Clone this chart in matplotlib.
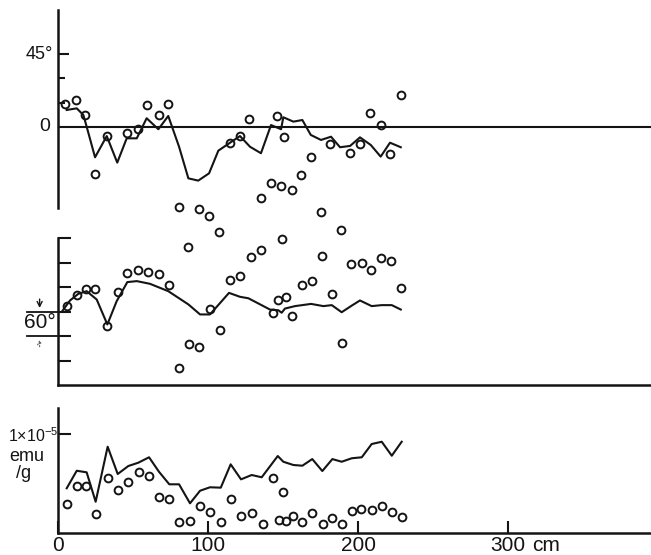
import matplotlib
matplotlib.use('Agg')
from matplotlib import pyplot as plt
import matplotlib.transforms as mtransforms

plt.rcParams['font.family'] = ['Liberation Sans', 'DejaVu Sans']
plt.rcParams['mathtext.fontset'] = 'custom'
plt.rcParams['mathtext.rm'] = 'Liberation Sans'

# Declination (deg) - single specimens (circles) and smoothed curve
dec_depth = [4.7, 11.8, 18.0, 24.7, 32.7, 46.0, 53.1, 59.3, 67.1, 73.5, 80.7, 86.9,
             94.0, 100.9, 107.5, 114.7, 121.3, 127.5, 135.3, 142.0, 146.2, 148.7,
             150.9, 155.8, 162.0, 168.5, 175.3, 181.3, 188.7, 194.7, 201.3, 208.0,
             215.1, 221.3, 228.5]
dec_pts = [14.0, 16.7, 7.6, -28.8, -5.4, -3.9, -1.4, 13.6, 7.4, 14.4, -49.4, -73.9,
           -50.6, -54.9, -64.6, -10.1, -5.6, 4.9, -43.8, -34.4, 6.8, -36.4,
           -6.4, -39.1, -29.6, -18.3, -52.7, -10.5, -63.6, -16.2, -10.3, 8.8,
           1.2, -16.9, 19.9]
dec_line_depth = [5.8, 12.5, 16.9, 19.1, 24.7, 32.5, 39.5, 45.8, 52.5, 59.1, 66.9,
                  73.5, 80.7, 86.9, 93.5, 100.7, 106.9, 114.7, 121.3, 128.0, 135.3,
                  142.0, 148.7, 150.2, 156.9, 162.9, 168.5, 175.3, 182.0, 188.0,
                  194.7, 201.3, 208.5, 215.1, 221.3, 228.5]
dec_line = [10.5, 11.5, 7.4, 0.2, -18.7, -5.6, -22.0, -7.0, -7.0, 5.4, -1.4,
            6.8, -12.2, -31.7, -33.1, -28.6, -14.6, -9.7, -5.6, -12.2, -16.2,
            1.2, -1.4, 6.0, 3.3, 4.3, -4.9, -8.0, -6.0, -12.5,
            -11.7, -6.4, -11.1, -18.3, -9.7, -12.5]

# Inclination (deg)
inc_depth = [5.8, 12.5, 18.7, 24.9, 32.9, 39.8, 46.2, 53.5, 60.2, 67.1, 74.0, 80.9,
             87.5, 94.0, 101.3, 108.0, 114.7, 121.3, 128.5, 135.3, 143.1, 146.9,
             149.1, 151.8, 155.8, 162.5, 169.5, 175.8, 182.5, 189.1, 195.1, 202.5,
             208.7, 215.3, 222.0, 228.5]
inc_pts = [62.4, 66.9, 69.0, 69.3, 54.0, 67.9, 75.9, 77.1, 76.3, 75.2, 70.9, 37.0,
           46.8, 45.6, 61.1, 52.4, 72.8, 74.4, 82.2, 85.0, 59.5, 64.5,
           89.4, 66.0, 58.1, 71.0, 72.4, 82.6, 67.3, 47.2, 79.5, 79.6,
           76.9, 81.9, 80.8, 69.7]
inc_line_depth = [3.1, 8.0, 13.5, 19.1, 25.8, 32.9, 39.1, 46.2, 52.5, 61.3, 73.5,
                  86.9, 94.7, 101.3, 109.1, 114.0, 121.3, 126.9, 133.5, 141.3, 146.9,
                  149.1, 151.3, 158.0, 168.7, 176.9, 182.5, 189.1, 195.8, 201.3,
                  209.1, 215.8, 222.5, 228.5]
inc_line = [60.4, 64.5, 67.2, 68.3, 64.9, 54.7, 64.2, 72.0, 72.4, 71.3, 68.3,
            62.9, 58.8, 58.8, 64.2, 67.6, 66.0, 65.4, 63.3, 60.8, 60.5,
            59.5, 61.2, 62.2, 63.1, 62.2, 62.6, 59.7, 62.4, 64.5,
            62.2, 62.6, 62.6, 60.8]

# Intensity (x 1e-5 emu/g)
int_depth = [5.8, 12.5, 18.7, 25.3, 33.1, 39.8, 46.9, 54.0, 60.7, 67.3, 74.0, 80.7,
             88.0, 94.7, 101.3, 108.5, 115.3, 122.0, 129.1, 136.5, 143.1, 147.3,
             149.8, 151.8, 156.5, 162.9, 169.5, 176.5, 182.9, 189.1, 195.8, 202.0,
             209.1, 215.8, 222.5, 229.1]
int_pts = [0.293, 0.478, 0.475, 0.189, 0.559, 0.434, 0.518, 0.613, 0.576, 0.367,
           0.343, 0.108, 0.121, 0.273, 0.215, 0.108, 0.343, 0.172, 0.199, 0.091,
           0.559, 0.131, 0.417, 0.121, 0.172, 0.108, 0.205, 0.091, 0.155, 0.091,
           0.222, 0.242, 0.232, 0.273, 0.215, 0.165]
int_line_depth = [5.8, 12.5, 19.1, 25.1, 33.1, 39.8, 46.9, 53.5, 60.7, 67.3, 74.2,
                  80.7, 88.0, 94.7, 101.3, 108.5, 115.1, 122.0, 129.1, 135.8, 146.5,
                  150.2, 156.9, 162.9, 169.5, 176.2, 182.9, 189.1, 195.8, 202.5,
                  209.1, 215.8, 222.5, 229.1]
int_line = [0.452, 0.629, 0.613, 0.316, 0.872, 0.596, 0.677, 0.710, 0.765, 0.619,
            0.492, 0.492, 0.300, 0.427, 0.462, 0.458, 0.694, 0.542, 0.586, 0.563,
            0.778, 0.720, 0.687, 0.680, 0.747, 0.626, 0.747, 0.720, 0.755, 0.765,
            0.899, 0.922, 0.781, 0.922]

ink = '#141414'
W, H = 651, 555
fig = plt.figure(figsize=(W / 100, H / 100), dpi=100)


def box(top, bottom):
    return [58 / W, 1 - bottom / H, (W - 58) / W, (bottom - top) / H]


ax1 = fig.add_axes(box(10, 208))
ax2 = fig.add_axes(box(238, 385))
ax3 = fig.add_axes(box(408, 533))

mk = dict(marker='o', ms=5.6, mfc='none', mec=ink, mew=1.4, ls='none', clip_on=False, zorder=4)
ln = dict(color=ink, lw=1.5, clip_on=False, zorder=3)

ax1.plot(dec_line_depth, dec_line, **ln)
ax1.plot(dec_depth, dec_pts, **mk)
ax1.axhline(0, color=ink, lw=1.5, zorder=2)
ax1.set_ylim(-50, 72.2)

ax2.plot(inc_line_depth, inc_line, **ln)
ax2.plot(inc_depth, inc_pts, **mk)
ax2.set_ylim(30, 90)

ax3.plot(int_line_depth, int_line, **ln)
ax3.plot(int_depth, int_pts, **mk)
ax3.set_ylim(0, 1.263)

for ax in (ax1, ax2, ax3):
    ax.set_xlim(0, 395.3)
    ax.patch.set_visible(False)
    for s in ax.spines.values():
        s.set_color(ink)
        s.set_linewidth(1.8)
    ax.spines['top'].set_visible(False)
    ax.spines['right'].set_visible(False)
    ax.tick_params(axis='y', direction='in', length=9.4, width=1.5, color=ink,
                   labelleft=False)
    ax.tick_params(axis='y', which='minor', direction='in', length=5, width=1.5, color=ink)

ax1.spines['bottom'].set_visible(False)
ax1.set_xticks([])
ax2.set_xticks([])

ax1.set_yticks([45])
ax1.set_yticks([15, 30], minor=True)
ax1.tick_params(axis='y', length=8)
ax2.set_yticks([40, 50, 60, 70, 80, 90])
ax3.set_yticks([1.0])

ax3.set_xticks([0, 100, 200, 300])
ax3.set_xticklabels(['0', '100', '200', '300'])
ax3.tick_params(axis='x', direction='in', length=9, width=1.5, color=ink, pad=2,
                labelsize=15, labelcolor=ink)

# axis annotations
t1 = mtransforms.blended_transform_factory(ax1.transAxes, ax1.transData)
ax1.text(-0.009, 45, '45°', transform=t1, ha='right', va='center', fontsize=13, color=ink)
ax1.text(-0.013, 0, '0', transform=t1, ha='right', va='center', fontsize=14, color=ink)

t2 = mtransforms.blended_transform_factory(ax2.transAxes, ax2.transData)
for v in (60, 50):
    ax2.plot([-0.053, 0.0], [v, v], transform=t2, color=ink, lw=1.3, clip_on=False)
ax2.text(-0.004, 55.4, '60°', transform=t2, ha='right', va='center', fontsize=15, color=ink)
ax2.annotate('', xy=(-0.031, 60.3), xytext=(-0.031, 66.2), xycoords=t2, textcoords=t2,
             arrowprops=dict(arrowstyle='->', color=ink, lw=1.0, mutation_scale=9))
ax2.annotate('', xy=(-0.031, 49.6), xytext=(-0.031, 44.5), xycoords=t2, textcoords=t2,
             arrowprops=dict(arrowstyle='->', color='#555555', lw=0.8, ls=':', mutation_scale=7))

t3 = mtransforms.blended_transform_factory(ax3.transData, ax3.transAxes)
ax3.text(316, -0.025, 'cm', transform=t3, ha='left', va='top', fontsize=15, color=ink)

fig.text(8 / W, 1 - 442 / H, r'1×10$^{-5}$', ha='left', va='baseline', fontsize=11.5, color=ink)
fig.text(9 / W, 1 - 461 / H, 'emu', ha='left', va='baseline', fontsize=13, color=ink)
fig.text(16 / W, 1 - 478 / H, '/g', ha='left', va='baseline', fontsize=13, color=ink)

fig.savefig('out.png', dpi=100)
